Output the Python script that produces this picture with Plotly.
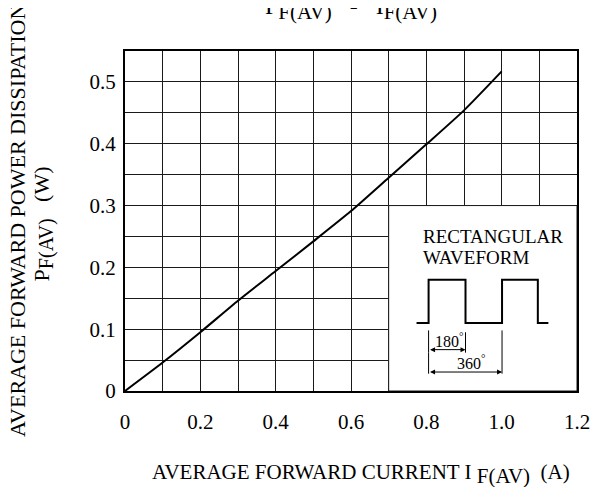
import plotly.graph_objects as go

# ---- data ----
current_a = [0.0, 0.1, 0.2, 0.3, 0.4, 0.5, 0.6, 0.7, 0.8, 0.9, 1.0]
power_w = [0.0, 0.046, 0.095, 0.146, 0.194, 0.242, 0.291, 0.345, 0.399, 0.454, 0.517]

x_tick_vals = [0, 0.2, 0.4, 0.6, 0.8, 1.0, 1.2]
x_tick_text = ["0", "0.2", "0.4", "0.6", "0.8", "1.0", "1.2"]
y_tick_vals = [0, 0.1, 0.2, 0.3, 0.4, 0.5]
y_tick_text = ["0", "0.1", "0.2", "0.3", "0.4", "0.5"]
x_grid = [round(0.1 * i, 2) for i in range(13)]
y_grid = [round(0.05 * i, 2) for i in range(12)]

# inset waveform diagram (data coordinates)
wave_x = [0.774, 0.806, 0.806, 0.904, 0.904, 1.001, 1.001, 1.096, 1.096, 1.124]
wave_y = [0.110, 0.110, 0.180, 0.180, 0.110, 0.110, 0.180, 0.180, 0.110, 0.110]

FONT = "Liberation Serif, Times New Roman, serif"
GRID = "#1a1a1a"


def sub(t, size):
    return f"<sub><span style='font-size:{size}px'>{t}</span></sub>"


fig = go.Figure()

fig.add_trace(go.Scatter(x=current_a, y=power_w, mode="lines",
                         line=dict(color="black", width=2, shape="spline", smoothing=0.6),
                         showlegend=False, hoverinfo="skip"))

fig.add_trace(go.Scatter(x=wave_x, y=wave_y, mode="lines",
                         line=dict(color="black", width=2),
                         showlegend=False, hoverinfo="skip"))

# white inset box covering gridlines
fig.add_shape(type="rect", xref="x", yref="y", x0=0.7, x1=1.2, y0=0, y1=0.3,
              fillcolor="white", line=dict(color=GRID, width=1), layer="between")

# dimension lines
dim_lines = [
    (0.806, 0.098, 0.806, 0.062),
    (0.904, 0.095, 0.904, 0.062),
    (1.001, 0.098, 1.001, 0.028),
    (0.806, 0.062, 0.806, 0.028),
]
for x0, y0, x1, y1 in dim_lines:
    fig.add_shape(type="line", xref="x", yref="y", x0=x0, y0=y0, x1=x1, y1=y1,
                  line=dict(color="black", width=1), layer="above")

for xa, xb, yy in [(0.806, 0.904, 0.0669), (0.806, 1.001, 0.0307)]:
    fig.add_annotation(x=xb, y=yy, ax=xa, ay=yy, xref="x", yref="y", axref="x", ayref="y",
                       text="", showarrow=True, arrowhead=2, arrowside="end+start",
                       arrowsize=1, arrowwidth=1, arrowcolor="black")

fig.add_annotation(x=0.861, y=0.083, xref="x", yref="y", text="180<sup>°</sup>",
                   showarrow=False, font=dict(family=FONT, size=16, color="black"))
fig.add_annotation(x=0.918, y=0.047, xref="x", yref="y", text="360<sup>°</sup>",
                   showarrow=False, font=dict(family=FONT, size=16, color="black"))
fig.add_annotation(x=0.786, y=0.250, xref="x", yref="y", xanchor="left",
                   text="RECTANGULAR", showarrow=False,
                   font=dict(family=FONT, size=19, color="black"))
fig.add_annotation(x=0.786, y=0.216, xref="x", yref="y", xanchor="left",
                   text="WAVEFORM", showarrow=False,
                   font=dict(family=FONT, size=19, color="black"))

# top title (cut off at top)
fig.add_annotation(x=0.5, y=1.073, xref="paper", yref="paper", yanchor="bottom",
                   text="P" + sub("F(AV)", 21) + "   -   I" + sub("F(AV)", 21),
                   showarrow=False, font=dict(family=FONT, size=24, color="black"))

# y axis titles
fig.add_annotation(x=0, y=0.5, xref="paper", yref="paper", xanchor="center",
                   yanchor="middle", xshift=-108, textangle=-90,
                   text="AVERAGE FORWARD POWER DISSIPATION", showarrow=False,
                   font=dict(family=FONT, size=22, color="black"))
fig.add_annotation(x=0, y=0.49, xref="paper", yref="paper", xanchor="center",
                   yanchor="middle", xshift=-81, textangle=-90,
                   text="P" + sub("F(AV)", 20) + "   (W)", showarrow=False,
                   font=dict(family=FONT, size=22, color="black"))

# x axis title (partly cut at the bottom edge)
fig.add_annotation(x=0.5, y=0, xref="paper", yref="paper", yshift=-83, xshift=10,
                   yanchor="middle",
                   text="AVERAGE FORWARD CURRENT I " + sub("F(AV)", 21) + "  (A)",
                   showarrow=False, font=dict(family=FONT, size=21, color="black"))

# page has an 8px body margin: figure is 594x479 placed at (8, 8)
fig.update_layout(
    width=594, height=479,
    margin=dict(l=117, r=15, t=43, b=96),
    paper_bgcolor="white", plot_bgcolor="white",
    font=dict(family=FONT, size=21, color="black"),
    showlegend=False,
    xaxis=dict(range=[0, 1.2], tickvals=x_tick_vals, ticktext=x_tick_text,
               showgrid=False, zeroline=False, showline=True, linecolor="black",
               linewidth=2, mirror=True, ticks="", ticklabelstandoff=11,
               minor=dict(tickvals=x_grid, showgrid=True, gridcolor=GRID, gridwidth=1)),
    yaxis=dict(range=[0, 0.55], tickvals=y_tick_vals, ticktext=y_tick_text,
               showgrid=False, zeroline=False, showline=True, linecolor="black",
               linewidth=2, mirror=True, ticks="", ticklabelstandoff=3,
               minor=dict(tickvals=y_grid, showgrid=True, gridcolor=GRID, gridwidth=1)),
)

fig.write_html("out.html")
